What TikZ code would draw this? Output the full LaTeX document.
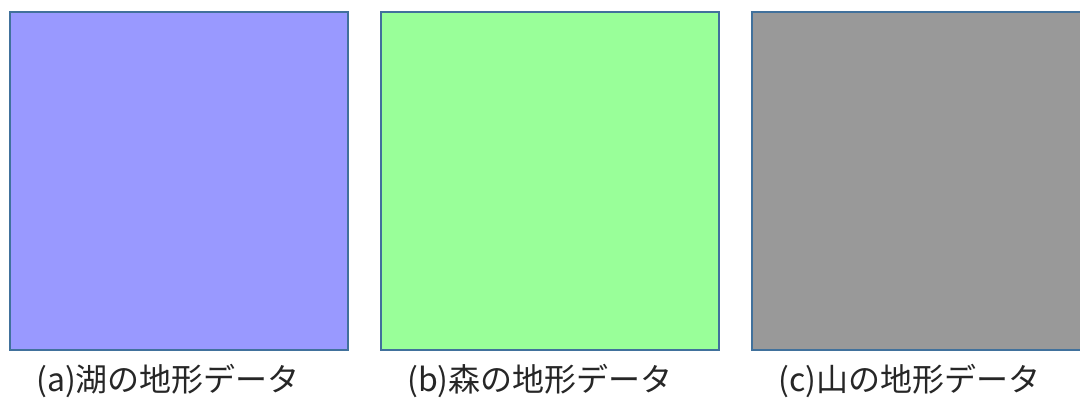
\documentclass[tikz,border=0pt]{standalone}
\usepackage{fontspec}
\newfontfamily\cjk{Noto Sans CJK JP}
\definecolor{lakeblue}{HTML}{9999FF}
\definecolor{forestgreen}{HTML}{99FF99}
\definecolor{mountgray}{HTML}{999999}
\definecolor{edgeblue}{HTML}{41719C}
\begin{document}
\begin{tikzpicture}[x=1pt,y=-1pt,
  panel/.style={draw=edgeblue,line width=1.6pt,minimum width=338pt,minimum height=338pt,inner sep=0pt,anchor=north west},
  caption/.style={font=\cjk\fontsize{32}{38}\selectfont,inner sep=0pt,anchor=west,text=black!85}]
\useasboundingbox (0,0) rectangle (1080,403);
\clip (0,0) rectangle (1080,403);
\node[panel,fill=lakeblue] (pa) at (9,11) {};
\node[panel,fill=forestgreen] (pb) at (380,11) {};
\node[panel,fill=mountgray] (pc) at (751,11) {};
\node[caption] (la) at (36,381) {(a)湖の地形データ};
\node[caption] (lb) at (407,381) {(b)森の地形データ};
\node[caption] (lc) at (778,381) {(c)山の地形データ};
\end{tikzpicture}
\end{document}
